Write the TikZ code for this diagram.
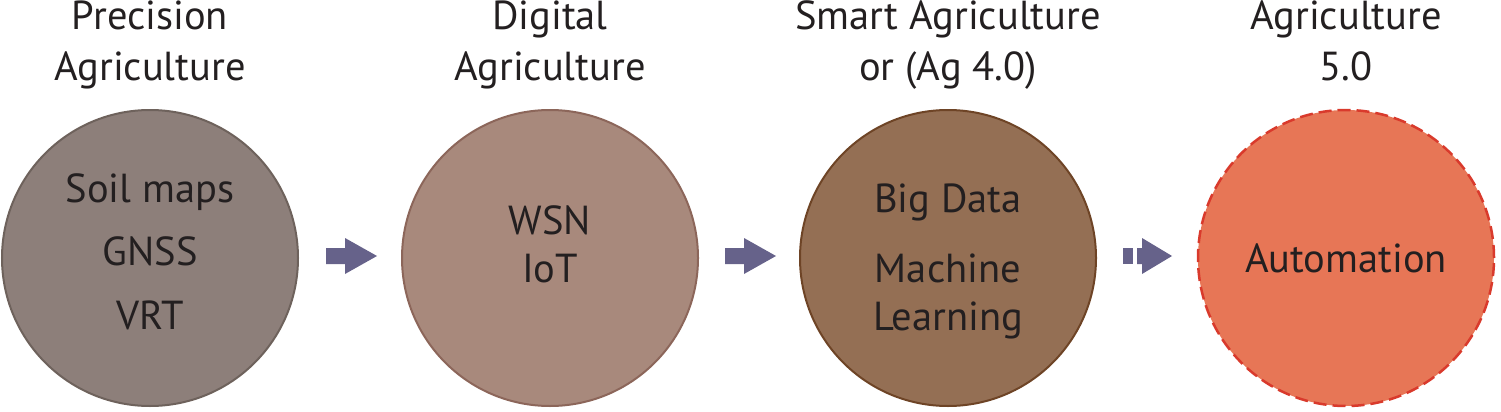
\documentclass[tikz,border=0pt]{standalone}
\usepackage{fontspec}
\setmainfont{PT Sans}
\begin{document}
\begin{tikzpicture}[x=1pt,y=-1pt,
  txt/.style={anchor=base,inner sep=0pt,text=textc,font=\fontsize{40.5}{48}\selectfont},
  bubble/.style={circle,minimum size=296pt,inner sep=0pt,line width=2pt},
  arrowfill/.style={fill=arrowc}]
\definecolor{textc}{HTML}{231F20}
\definecolor{arrowc}{HTML}{66628A}
\definecolor{f1}{HTML}{8D7F7A}\definecolor{s1}{HTML}{6E625C}
\definecolor{f2}{HTML}{A8897C}\definecolor{s2}{HTML}{8C665A}
\definecolor{f3}{HTML}{946F54}\definecolor{s3}{HTML}{6E4426}
\definecolor{f4}{HTML}{E77656}\definecolor{s4}{HTML}{D93A2C}
\useasboundingbox (0,0) rectangle (1501,412);
% circles
\node[bubble,draw=s1,fill=f1] (c1) at (150,258) {};
\node[bubble,draw=s2,fill=f2] (c2) at (550,258) {};
\node[bubble,draw=s3,fill=f3] (c3) at (948,258) {};
\node[bubble,draw=s4,fill=f4,line width=2.5pt,dash pattern=on 13pt off 6pt] (c4) at (1346,258) {};
% titles
\node[txt] (t1a) at (150,30) {Precision};
\node[txt] (t1b) at (150,80) {Agriculture};
\node[txt] (t2a) at (550,30) {Digital};
\node[txt] (t2b) at (550,80) {Agriculture};
\node[txt] (t3a) at (948,30) {Smart Agriculture};
\node[txt] (t3b) at (948,80) {or (Ag 4.0)};
\node[txt] (t4a) at (1346,30) {Agriculture};
\node[txt] (t4b) at (1346,80) {5.0};
% contents
\node[txt] (l1a) at (150,202) {Soil maps};
\node[txt] (l1b) at (150,265) {GNSS};
\node[txt] (l1c) at (150,329) {VRT};
\node[txt] (l2a) at (550,234) {WSN};
\node[txt] (l2b) at (550,282) {IoT};
\node[txt] (l3a) at (948,212) {Big Data};
\node[txt] (l3b) at (948,282) {Machine};
\node[txt] (l3c) at (948,330) {Learning};
\node[txt] (l4a) at (1346,272) {Automation};
% arrows
\fill[arrowfill] (326,248) -- (345,248) -- (345,238) -- (377,256) -- (345,274) -- (345,264) -- (326,264) -- cycle;
\fill[arrowfill] (725,248) -- (744,248) -- (744,238) -- (776,256) -- (744,274) -- (744,264) -- (725,264) -- cycle;
\fill[arrowfill] (1123,248) rectangle (1133,264);
\fill[arrowfill] (1137,248) -- (1142,248) -- (1142,238) -- (1172,256) -- (1142,274) -- (1142,264) -- (1137,264) -- cycle;
\end{tikzpicture}
\end{document}
